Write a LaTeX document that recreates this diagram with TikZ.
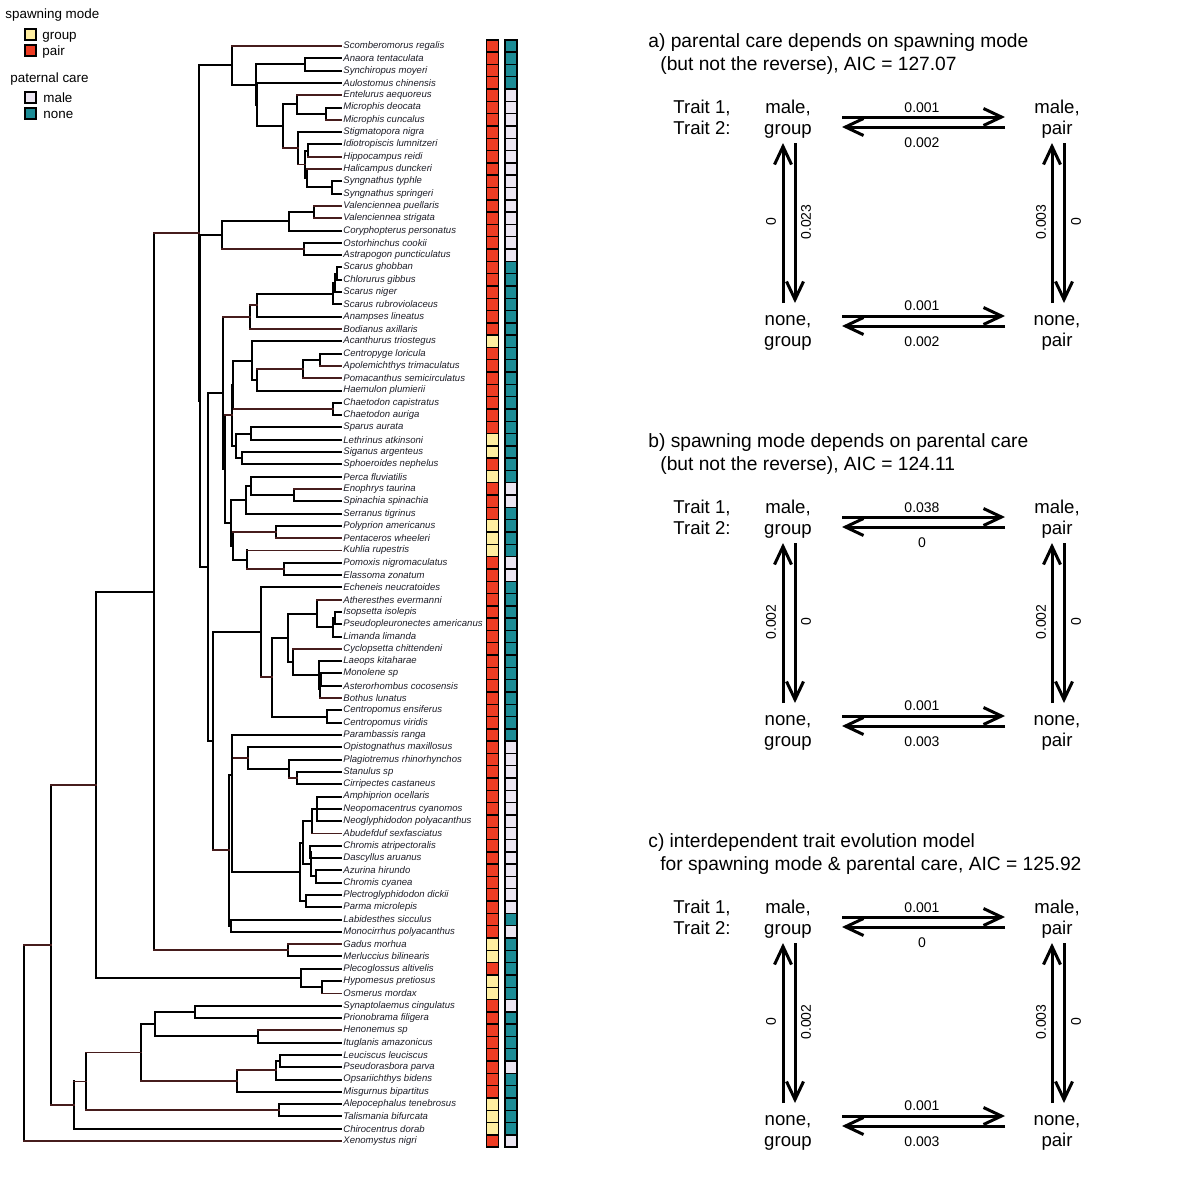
\documentclass[tikz,border=0pt]{standalone}
\usepackage{fontspec}
\setmainfont{Liberation Sans}
\usetikzlibrary{arrows.meta,calc}
\definecolor{sG}{RGB}{255,238,160}
\definecolor{sP}{RGB}{238,60,35}
\definecolor{cM}{RGB}{236,230,242}
\definecolor{cN}{RGB}{28,140,150}
\definecolor{rdbr}{RGB}{70,28,28}
\definecolor{tipc}{RGB}{30,30,40}
\tikzset{
  bk/.style={draw=black,line width=1pt,line cap=rect},
  rd/.style={draw=rdbr,line width=0.85pt,line cap=rect},
  tip/.style={anchor=west,inner sep=0.5pt,text=tipc,font=\fontsize{4.78}{5.5}\selectfont\itshape},
  sq/.style={draw=black,line width=0.7pt,minimum width=6pt,minimum height=6.15pt,inner sep=0pt,outer sep=0pt},
  lsq/.style={draw=black,line width=0.7pt,minimum width=5.5pt,minimum height=5.5pt,inner sep=0pt},
  leg/.style={anchor=base west,inner sep=0pt,font=\fontsize{6.7}{8}\selectfont},
  ttl/.style={anchor=base west,inner sep=0pt,font=\fontsize{9.6}{11}\selectfont},
  lbl/.style={anchor=base,inner sep=0pt,font=\fontsize{9.3}{11}\selectfont},
  rate/.style={anchor=base,inner sep=0pt,font=\fontsize{7}{8}\selectfont},
  arr/.style={line width=1.5pt,-{Straight Barb[length=9pt,width=8.5pt]}},
}
\newcommand\tn[6]{%
  \path ($(#3)!0.5!(#4)$) coordinate (#1m);
  \coordinate (#1) at (#2,0 |- #1m);
  \draw[bk] (#1 |- #3) -- (#1 |- #4);
  \draw[#5] (#1 |- #3) -- (#3);
  \draw[#6] (#1 |- #4) -- (#4);
}
\def\setrates#1/#2/#3/#4/#5/#6/#7/#8\relax{\def\rA{#1}\def\rB{#2}\def\rC{#3}\def\rD{#4}\def\rE{#5}\def\rF{#6}\def\rG{#7}\def\rH{#8}}
\newcommand\panel[5]{%
 \setrates#5\relax
 \begin{scope}[shift={(0,#2)}]
 \node[ttl] (#1ti) at (648,47) {#3};
 \node[ttl] (#1tii) at (660,70) {#4};
 \node[lbl,anchor=base west] (#1tri) at (673,113) {Trait 1,};
 \node[lbl,anchor=base west] (#1trii) at (673,134) {Trait 2:};
 \node[lbl] (#1mgi) at (788,113) {male,};
 \node[lbl] (#1mgii) at (788,134) {group};
 \node[lbl] (#1mpi) at (1057,113) {male,};
 \node[lbl] (#1mpii) at (1057,134) {pair};
 \node[lbl] (#1ngi) at (788,325) {none,};
 \node[lbl] (#1ngii) at (788,346) {group};
 \node[lbl] (#1npi) at (1057,325) {none,};
 \node[lbl] (#1npii) at (1057,346) {pair};
 \coordinate (#1ha) at (842,117); \coordinate (#1hb) at (1005,117);
 \coordinate (#1hc) at (1005,127); \coordinate (#1hd) at (842,127);
 \coordinate (#1he) at (842,316); \coordinate (#1hf) at (1005,316);
 \coordinate (#1hg) at (1005,326); \coordinate (#1hh) at (842,326);
 \coordinate (#1va) at (783,303); \coordinate (#1vb) at (783,143);
 \coordinate (#1vc) at (795,143); \coordinate (#1vd) at (795,303);
 \coordinate (#1ve) at (1052,303); \coordinate (#1vf) at (1052,143);
 \coordinate (#1vg) at (1064,143); \coordinate (#1vh) at (1064,303);
 \draw[arr] (#1ha) -- (#1hb);
 \draw[arr] (#1hc) -- (#1hd);
 \draw[arr] (#1he) -- (#1hf);
 \draw[arr] (#1hg) -- (#1hh);
 \draw[arr] (#1va) -- (#1vb);
 \draw[arr] (#1vc) -- (#1vd);
 \draw[arr] (#1ve) -- (#1vf);
 \draw[arr] (#1vg) -- (#1vh);
 \node[rate] (#1ra) at (922,112) {\rA};
 \node[rate] (#1rb) at (922,147) {\rB};
 \node[rate] (#1rc) at (922,310) {\rC};
 \node[rate] (#1rd) at (922,346) {\rD};
 \node[rate,rotate=90,anchor=center] (#1re) at (771,222) {\rE};
 \node[rate,rotate=90,anchor=center] (#1rf) at (806,222) {\rF};
 \node[rate,rotate=90,anchor=center] (#1rg) at (1041,222) {\rG};
 \node[rate,rotate=90,anchor=center] (#1rh) at (1076,222) {\rH};
 \end{scope}}
\begin{document}
\begin{tikzpicture}[x=0.5pt,y=-0.5pt]
\fill[white] (0,0) rectangle (1200,1200);
\useasboundingbox (0,0) rectangle (1200,1200);
% legend
\node[leg] (lgs) at (5,18.5) {spawning mode};
\node[lsq,fill=sG] (lgG) at (30.5,34.5) {};
\node[leg] (lgGt) at (42,39) {group};
\node[lsq,fill=sP] (lgP) at (30.5,50.5) {};
\node[leg] (lgPt) at (42,55) {pair};
\node[leg] (lgc) at (10,82) {paternal care};
\node[lsq,fill=cM] (lgM) at (30.5,97.5) {};
\node[leg] (lgMt) at (43,102.5) {male};
\node[lsq,fill=cN] (lgN) at (30.5,113.5) {};
\node[leg] (lgNt) at (43,118.5) {none};
% tips
\foreach \i/\nm/\s/\c in {1/Scomberomorus regalis/P/N,2/Anaora tentaculata/P/N,3/Synchiropus moyeri/P/N,4/Aulostomus chinensis/P/N,5/Entelurus aequoreus/P/M,6/Microphis deocata/P/M,7/Microphis cuncalus/P/M,8/Stigmatopora nigra/P/M,9/Idiotropiscis lumnitzeri/P/M,10/Hippocampus reidi/P/M,11/Halicampus dunckeri/P/M,12/Syngnathus typhle/P/M,13/Syngnathus springeri/P/M,14/Valenciennea puellaris/P/M,15/Valenciennea strigata/P/M,16/Coryphopterus personatus/P/M,17/Ostorhinchus cookii/P/M,18/Astrapogon puncticulatus/P/M,19/Scarus ghobban/P/N,20/Chlorurus gibbus/P/N,21/Scarus niger/P/N,22/Scarus rubroviolaceus/P/N,23/Anampses lineatus/P/N,24/Bodianus axillaris/P/N,25/Acanthurus triostegus/G/N,26/Centropyge loricula/P/N,27/Apolemichthys trimaculatus/P/N,28/Pomacanthus semicirculatus/P/N,29/Haemulon plumierii/P/N,30/Chaetodon capistratus/P/N,31/Chaetodon auriga/P/N,32/Sparus aurata/P/N,33/Lethrinus atkinsoni/G/N,34/Siganus argenteus/G/N,35/Sphoeroides nephelus/P/N,36/Perca fluviatilis/G/N,37/Enophrys taurina/P/M,38/Spinachia spinachia/P/M,39/Serranus tigrinus/P/N,40/Polyprion americanus/G/N,41/Pentaceros wheeleri/G/N,42/Kuhlia rupestris/G/N,43/Pomoxis nigromaculatus/P/M,44/Elassoma zonatum/P/M,45/Echeneis neucratoides/P/N,46/Atheresthes evermanni/P/N,47/Isopsetta isolepis/P/N,48/Pseudopleuronectes americanus/P/N,49/Limanda limanda/P/N,50/Cyclopsetta chittendeni/P/N,51/Laeops kitaharae/P/N,52/Monolene sp/P/N,53/Asterorhombus cocosensis/P/N,54/Bothus lunatus/P/N,55/Centropomus ensiferus/P/N,56/Centropomus viridis/P/N,57/Parambassis ranga/P/N,58/Opistognathus maxillosus/P/M,59/Plagiotremus rhinorhynchos/P/M,60/Stanulus sp/P/M,61/Cirripectes castaneus/P/M,62/Amphiprion ocellaris/P/M,63/Neopomacentrus cyanomos/P/M,64/Neoglyphidodon polyacanthus/P/M,65/Abudefduf sexfasciatus/P/M,66/Chromis atripectoralis/P/M,67/Dascyllus aruanus/P/M,68/Azurina hirundo/P/M,69/Chromis cyanea/P/M,70/Plectroglyphidodon dickii/P/M,71/Parma microlepis/P/M,72/Labidesthes sicculus/P/N,73/Monocirrhus polyacanthus/P/M,74/Gadus morhua/G/N,75/Merluccius bilinearis/G/N,76/Plecoglossus altivelis/P/N,77/Hypomesus pretiosus/G/N,78/Osmerus mordax/G/N,79/Synaptolaemus cingulatus/P/M,80/Prionobrama filigera/P/N,81/Henonemus sp/P/N,82/Ituglanis amazonicus/P/N,83/Leuciscus leuciscus/P/N,84/Pseudorasbora parva/P/M,85/Opsariichthys bidens/P/N,86/Misgurnus bipartitus/P/N,87/Alepocephalus tenebrosus/G/N,88/Talismania bifurcata/G/N,89/Chirocentrus dorab/G/N,90/Xenomystus nigri/P/M}{
  \pgfmathsetmacro\yy{46+12.3034*(\i-1)}
  \coordinate (c\i) at (341,\yy);
  \node[tip] (t\i) at (342,\yy) {\nm};
  \node[sq,fill=s\s] (s\i) at (492.5,\yy) {};
  \node[sq,fill=c\c] (k\i) at (510.8,\yy) {};
}
% tree
\tn{nSyn}{332}{c12}{c13}{bk}{bk}
\tn{nIH}{308}{c9}{c10}{bk}{rd}
\tn{nF}{307}{c11}{nSyn}{rd}{bk}
\tn{nEc}{305}{nIH}{nF}{bk}{bk}
\tn{nEb}{298}{c8}{nEc}{bk}{rd}
\tn{nMic}{326}{c6}{c7}{bk}{rd}
\tn{nEa}{297}{c5}{nMic}{rd}{bk}
\tn{nE}{283}{nEa}{nEb}{bk}{rd}
\tn{nD}{257}{c4}{nE}{bk}{bk}
\tn{nAS}{305}{c2}{c3}{bk}{bk}
\tn{nC}{256}{nAS}{nD}{bk}{bk}
\tn{nAi}{232}{c1}{nC}{rd}{bk}
\tn{nVal}{314}{c14}{c15}{rd}{rd}
\tn{nGob}{289}{nVal}{c16}{bk}{bk}
\tn{nApo}{304}{c17}{c18}{bk}{bk}
\tn{nV}{222}{nGob}{nApo}{bk}{rd}
\tn{nSca}{337}{c19}{c20}{bk}{bk}
\tn{nScb}{335}{nSca}{c21}{bk}{bk}
\tn{nScc}{333}{nScb}{c22}{bk}{bk}
\tn{nLabi}{257}{nScc}{c23}{bk}{bk}
\tn{nLab}{250}{nLabi}{c24}{rd}{rd}
\tn{nCA}{320}{c26}{c27}{bk}{rd}
\tn{nPom}{303}{nCA}{c28}{bk}{rd}
\tn{nZ}{257}{nPom}{c29}{rd}{bk}
\tn{nAc}{252}{c25}{nZ}{bk}{bk}
\tn{nCh}{333}{c30}{c31}{bk}{bk}
\tn{nYia}{233}{nAc}{nCh}{bk}{rd}
\tn{nSpL}{251}{c32}{c33}{bk}{bk}
\tn{nSiS}{242}{c34}{c35}{bk}{bk}
\tn{nYib}{236}{nSpL}{nSiS}{bk}{bk}
\tn{nYi}{232}{nYia}{nYib}{bk}{bk}
\tn{nES}{294}{c37}{c38}{rd}{bk}
\tn{nPe}{251}{c36}{nES}{bk}{bk}
\tn{nSe}{246}{nPe}{c39}{bk}{bk}
\tn{nPP}{276}{c40}{c41}{bk}{rd}
\tn{nPE}{284}{c43}{c44}{bk}{bk}
\tn{nKu}{247}{c42}{nPE}{rd}{rd}
\tn{nPK}{233}{nPP}{nKu}{rd}{bk}
\tn{nYii}{231}{nSe}{nPK}{bk}{bk}
\tn{nXib}{225}{nYi}{nYii}{rd}{bk}
\tn{nXi}{223}{nLab}{nXib}{rd}{bk}
\tn{nIP}{335}{c47}{c48}{bk}{bk}
\tn{nIPL}{333}{nIP}{c49}{bk}{bk}
\tn{nJ}{317}{c46}{nIPL}{rd}{bk}
\tn{nMA}{321}{c52}{c53}{bk}{bk}
\tn{nM}{320}{nMA}{c54}{bk}{rd}
\tn{nL}{319}{c51}{nM}{bk}{bk}
\tn{nK}{293}{c50}{nL}{rd}{bk}
\tn{nI}{288}{nJ}{nK}{bk}{bk}
\tn{nCen}{327}{c55}{c56}{bk}{bk}
\tn{nH}{272}{nI}{nCen}{bk}{bk}
\tn{nG}{261}{c45}{nH}{bk}{rd}
\tn{nSC}{297}{c60}{c61}{bk}{bk}
\tn{nPl}{289}{c59}{nSC}{bk}{rd}
\tn{nBl}{248}{c58}{nPl}{bk}{bk}
\tn{nDam}{317}{c62}{c64}{bk}{bk}
\draw[bk] (nDam |- c63) -- (c63);
\tn{nAb}{312}{nDam}{c65}{bk}{rd}
\tn{nCD}{310}{c66}{c67}{bk}{bk}
\tn{nAz}{316}{c68}{c69}{bk}{bk}
\tn{nQ}{311}{nCD}{nAz}{bk}{bk}
\tn{nPi}{303}{nAb}{nQ}{bk}{bk}
\tn{nPa}{306}{c70}{c71}{bk}{bk}
\tn{nPo}{300}{nPi}{nPa}{bk}{bk}
\tn{nNb}{232}{nBl}{nPo}{rd}{bk}
\tn{nNa}{232}{c57}{nNb}{bk}{bk}
\tn{nLM}{231}{c72}{c73}{bk}{bk}
\tn{nNo}{229}{nNa}{nLM}{bk}{bk}
\tn{nXii}{213}{nG}{nNo}{bk}{rd}
\tn{nW}{208}{nXi}{nXii}{bk}{bk}
\tn{nR}{200}{nV}{nW}{bk}{bk}
\tn{nP}{199}{nAi}{nR}{bk}{bk}
\tn{nGM}{288}{c74}{c75}{rd}{bk}
\tn{nTo}{154}{nP}{nGM}{rd}{rd}
\tn{nHO}{322}{c77}{c78}{bk}{rd}
\tn{nOsm}{301}{c76}{nHO}{bk}{bk}
\tn{nTi}{96}{nTo}{nOsm}{bk}{bk}
\tn{nSP}{195}{c79}{c80}{bk}{bk}
\tn{nHI}{258}{c81}{c82}{rd}{bk}
\tn{nOti}{155}{nSP}{nHI}{bk}{bk}
\tn{nLP}{280}{c83}{c84}{bk}{bk}
\tn{nLPO}{276}{nLP}{c85}{bk}{bk}
\tn{nCyp}{237}{nLPO}{c86}{rd}{bk}
\tn{nOt}{141}{nOti}{nCyp}{bk}{rd}
\tn{nAT}{279}{c87}{c88}{bk}{bk}
\tn{nOtii}{86}{nOt}{nAT}{rd}{rd}
\tn{nOtiii}{74}{nOtii}{c89}{rd}{bk}
\tn{nTii}{51}{nTi}{nOtiii}{rd}{rd}
\tn{nRoot}{24}{nTii}{c90}{rd}{rd}
% panels
\panel{a}{0}{a) parental care depends on spawning mode}{(but not the reverse), AIC = 127.07}{0.001/0.002/0.001/0.002/0/0.023/0.003/0}
\panel{b}{400}{b) spawning mode depends on parental care}{(but not the reverse), AIC = 124.11}{0.038/0/0.001/0.003/0.002/0/0.002/0}
\panel{c}{800}{c) interdependent trait evolution model}{for spawning mode \& parental care, AIC = 125.92}{0.001/0/0.001/0.003/0/0.002/0.003/0}
\end{tikzpicture}
\end{document}
